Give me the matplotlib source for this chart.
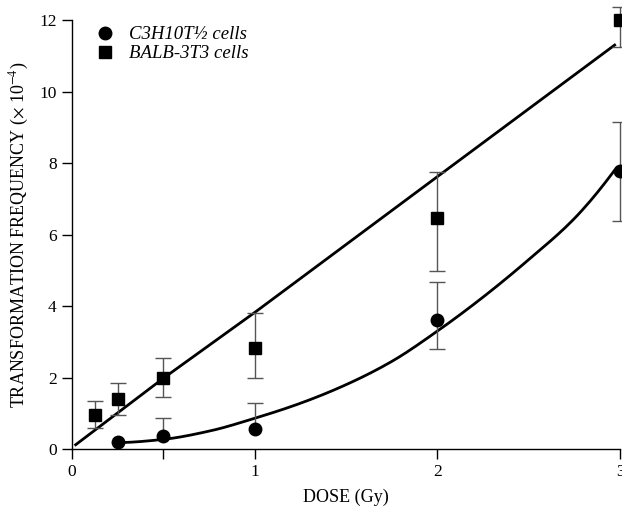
import matplotlib
matplotlib.use("Agg")
import matplotlib.pyplot as plt
import numpy as np
from matplotlib.lines import Line2D

plt.rcParams['font.family'] = ['Liberation Serif', 'DejaVu Serif']
plt.rcParams['mathtext.fontset'] = 'stix'

# C3H10T1/2 cells (circles)
c3h_dose = [0.25, 0.5, 1.0, 2.0, 3.0]
c3h_freq = [0.20, 0.36, 0.55, 3.61, 7.78]
c3h_err_lo = [np.nan, np.nan, np.nan, 0.81, 1.39]
c3h_err_hi = [np.nan, 0.50, 0.75, 1.07, 1.36]

# BALB-3T3 cells (squares)
balb_dose = [0.125, 0.25, 0.5, 1.0, 2.0, 3.0]
balb_freq = [0.95, 1.40, 2.00, 2.82, 6.45, 12.0]
balb_err_lo = [0.37, 0.45, 0.55, 0.84, 1.47, 0.76]
balb_err_hi = [0.40, 0.44, 0.55, 0.98, 1.31, 0.36]

# fitted curves
c3h_fit_x = [0.27, 0.5, 0.75, 1.0, 1.25, 1.5, 1.75, 2.0, 2.25, 2.5, 2.75, 2.97]
c3h_fit_y = [0.18, 0.27, 0.50, 0.86, 1.28, 1.80, 2.45, 3.30, 4.25, 5.30, 6.45, 7.80]
balb_fit_x = [0.02, 0.5, 1.0, 2.0, 2.97]
balb_fit_y = [0.12, 1.98, 3.82, 7.62, 11.30]

xticks = [0, 0.5, 1, 2, 3]
xticklabels = ['0', '', '1', '2', '3']
yticks = [0, 2, 4, 6, 8, 10, 12]

fig = plt.figure(figsize=(6.22, 5.08), dpi=100)
ax = fig.add_axes([0.1158, 0.1161, 0.8812, 0.8445])

xs = np.linspace(c3h_fit_x[0], c3h_fit_x[-1], 200)
try:
    from scipy.interpolate import PchipInterpolator
    ys = PchipInterpolator(c3h_fit_x, c3h_fit_y)(xs)
except Exception:
    xs, ys = c3h_fit_x, c3h_fit_y

ax.plot(xs, ys, color='black', lw=2.0, zorder=2)
ax.plot(balb_fit_x, balb_fit_y, color='black', lw=2.0, zorder=2)

ecol = '#555555'
ax.errorbar(c3h_dose, c3h_freq, yerr=[c3h_err_lo, c3h_err_hi], fmt='o',
            color='black', ms=9, ecolor=ecol, elinewidth=1.0,
            capsize=6, capthick=1.0, clip_on=False, zorder=3)
# bars for points whose lower error is hidden by the marker
c3h_lo_arr = np.array(c3h_err_lo, dtype=float)
c3h_hi_arr = np.array(c3h_err_hi, dtype=float)
m = np.isnan(c3h_lo_arr) & ~np.isnan(c3h_hi_arr)
ax.vlines(np.array(c3h_dose)[m], np.array(c3h_freq)[m],
          np.array(c3h_freq)[m] + c3h_hi_arr[m], colors=ecol, lw=1.0, zorder=2.5)

ax.errorbar(balb_dose, balb_freq, yerr=[balb_err_lo, balb_err_hi], fmt='s',
            color='black', ms=8.5, ecolor=ecol, elinewidth=1.0,
            capsize=6, capthick=1.0, clip_on=False, zorder=3)

ax.set_xlim(0, 3)
ax.set_ylim(0, 12)
ax.set_xticks(xticks)
ax.set_xticklabels(xticklabels)
ax.set_yticks(yticks)
ax.tick_params(direction='out', length=7, width=1, labelsize=12.5, colors='black', pad=4)
for s in ['top', 'right']:
    ax.spines[s].set_visible(False)
for s in ['left', 'bottom']:
    ax.spines[s].set_linewidth(1.0)

ax.set_xlabel('DOSE (Gy)', fontsize=13, labelpad=6)
ax.set_ylabel(r'TRANSFORMATION FREQUENCY ($\times$ 10$^{-4}$)', fontsize=13, labelpad=6)

h1 = Line2D([], [], marker='o', color='black', ls='none', ms=9)
h2 = Line2D([], [], marker='s', color='black', ls='none', ms=8.5)
ax.legend([h1, h2], ['C3H10T½ cells', 'BALB-3T3 cells'], loc='upper left',
          bbox_to_anchor=(0.012, 1.025), frameon=False,
          prop={'style': 'italic', 'size': 13.5}, handletextpad=0.8,
          labelspacing=0.1, handlelength=1.0)

fig.savefig('out.png', dpi=100)
